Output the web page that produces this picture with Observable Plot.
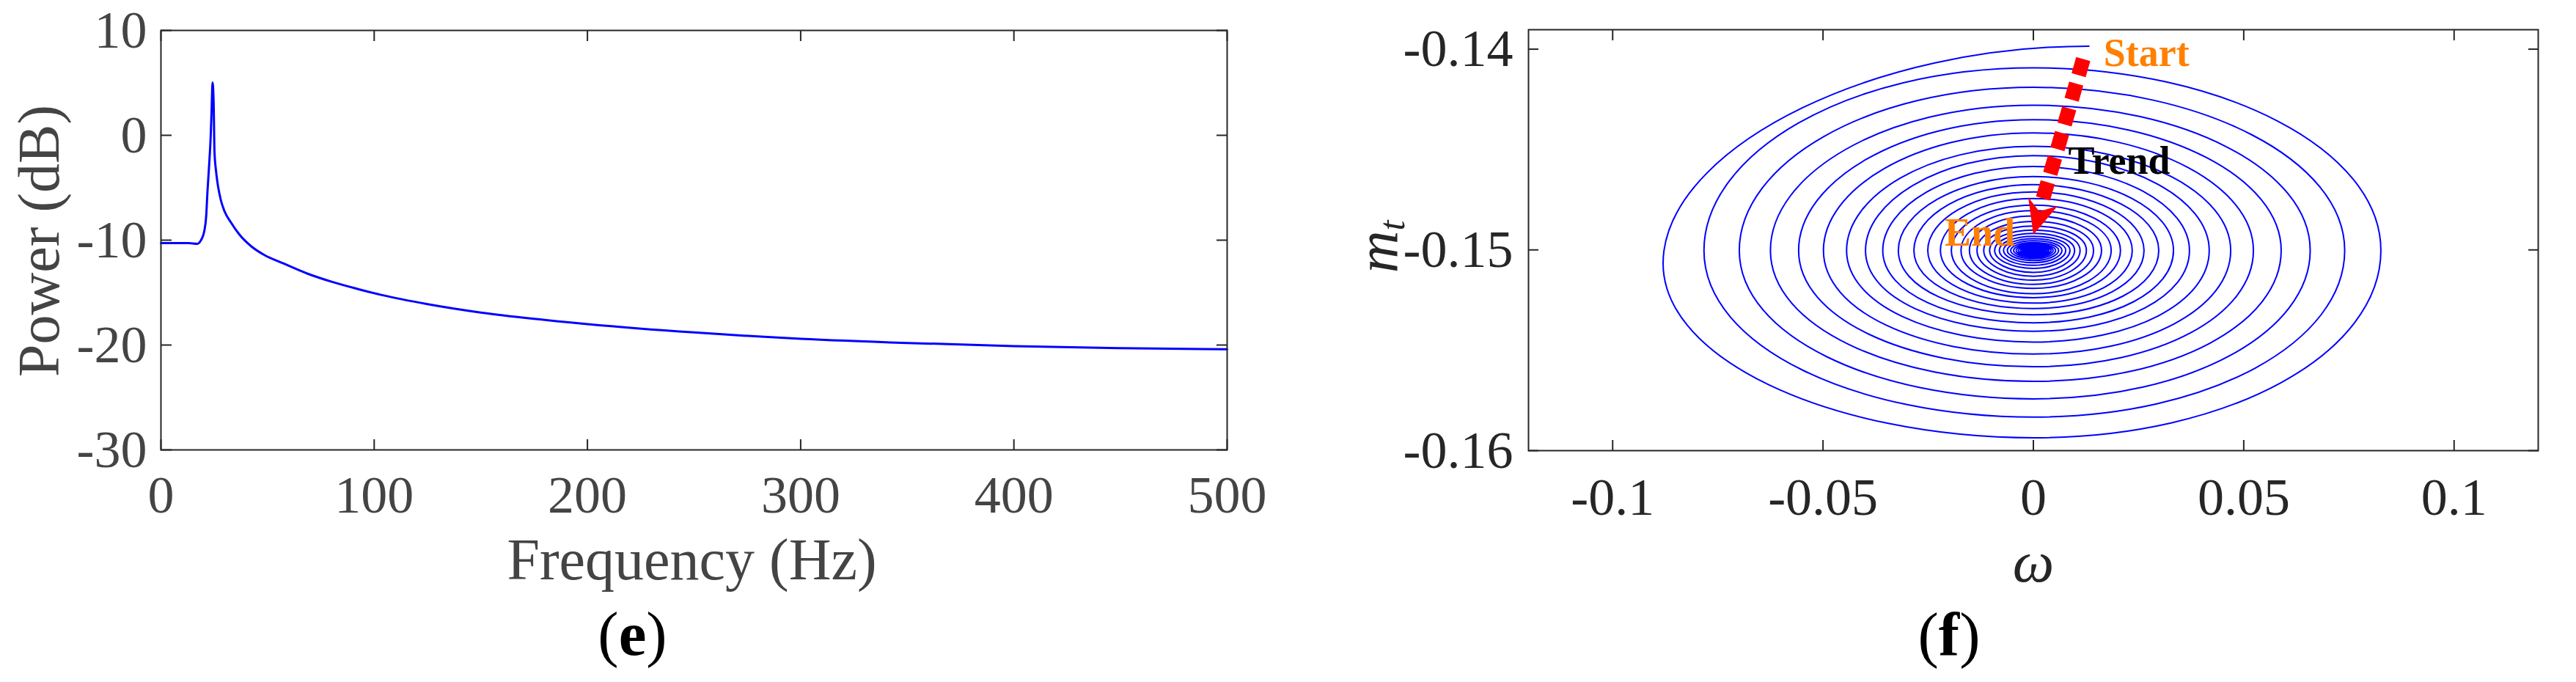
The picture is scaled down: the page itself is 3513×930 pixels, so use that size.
<!DOCTYPE html>
<html>
<head>
<meta charset="utf-8">
<script src="https://cdn.jsdelivr.net/npm/d3@7"></script>
<script src="https://cdn.jsdelivr.net/npm/@observablehq/plot@0.6"></script>
<style>
  html, body { margin: 0; padding: 0; background: #ffffff; }
  #wrap { position: relative; width: 3513px; height: 930px; overflow: hidden; background: #ffffff; }
  .panel { position: absolute; top: 0; }
  #panelE { left: 0px; }
  #panelF { left: 1760px; }
</style>
</head>
<body>
<div id="wrap">
  <div id="panelE" class="panel"></div>
  <div id="panelF" class="panel"></div>
</div>
<script>
// ---------------- Panel (e): power spectrum ----------------
const freqHz = [0, 13, 17, 18.9, 20.4, 21.2, 21.8, 22.6, 23.3, 23.75, 24.2, 24.7, 25.1, 25.8, 26.6, 28.1, 29.8, 32.7, 36.7, 42.5, 48.2, 57.4, 68.8, 80.3, 91.8, 103.3, 125, 150, 175, 200, 250, 300, 350, 400, 450, 500];
const powerDb = [-10.28, -10.28, -10.35, -9.96, -9.05, -7.76, -5.42, -2.83, -0.23, 2.36, 5.03, 3.14, -1.53, -3.35, -4.64, -6.19, -7.24, -8.27, -9.44, -10.61, -11.38, -12.22, -13.2, -13.98, -14.63, -15.22, -16.1, -16.9, -17.5, -18.0, -18.8, -19.4, -19.8, -20.1, -20.3, -20.4];
const freqTicks = [0, 100, 200, 300, 400, 500];
const powerTicks = [-30, -20, -10, 0, 10];

// ---------------- Panel (f): phase trajectory (omega, m_t) ----------------
// one value per loop of the spiral, outermost first
const spiralTopY = [-0.13985, -0.14093, -0.14190, -0.14279, -0.14351, -0.14417, -0.14484, -0.14530, -0.14584, -0.14635, -0.14675, -0.14711, -0.14744, -0.14777, -0.14804, -0.14831, -0.14858, -0.14881, -0.14901, -0.14918, -0.14932, -0.14944, -0.14954, -0.14963, -0.14970, -0.14976, -0.14981, -0.14985, -0.14989, -0.14992, -0.14994, -0.14996, -0.14998, -0.14999, -0.15000, -0.15001];
const spiralLeftX = [-0.0878, -0.0783, -0.0699, -0.0625, -0.0558, -0.0499, -0.0444, -0.0399, -0.0358, -0.0321, -0.0284, -0.0251, -0.0221, -0.0195, -0.0172, -0.0152, -0.0134, -0.0118, -0.0104, -0.0092, -0.0081, -0.0071, -0.0062, -0.0054, -0.0047, -0.0041, -0.0036, -0.0031, -0.0027, -0.0023, -0.0020, -0.0017, -0.0014, -0.0012, -0.0010, -0.0008];
const spiralBottomY = [-0.15936, -0.15833, -0.15742, -0.15655, -0.15582, -0.15519, -0.15459, -0.15405, -0.15363, -0.15323, -0.15292, -0.15265, -0.15238, -0.15218, -0.15192, -0.15172, -0.15151, -0.15131, -0.15112, -0.15092, -0.15077, -0.15064, -0.15053, -0.15044, -0.15036, -0.15030, -0.15025, -0.15021, -0.15017, -0.15014, -0.15012, -0.15010, -0.15008, -0.15007, -0.15006, -0.15005];
const spiralRightX = [0.0826, 0.0740, 0.0658, 0.0589, 0.0523, 0.0469, 0.0418, 0.0371, 0.0333, 0.0298, 0.0263, 0.0235, 0.0207, 0.0185, 0.0162, 0.0143, 0.0126, 0.0111, 0.0098, 0.0087, 0.0077, 0.0068, 0.0060, 0.0053, 0.0047, 0.0042, 0.0037, 0.0033, 0.0029, 0.0026, 0.0023, 0.0020, 0.0018, 0.0016, 0.0014, 0.0012];
const spiralStartX = 0.0132;   // omega of the "Start" point
const spiralTopX = 0.0;        // omega where each loop crosses its top / bottom
const spiralSideY = -0.15003;  // m_t where each loop crosses its left / right extreme

const trendX = [0.01185, 0.00697, 0.00192];
const trendY = [-0.14049, -0.14407, -0.14770];
const arrowHeadX = [-0.00122, 0.00139, 0.00575, 0.0, -0.00122];
const arrowHeadY = [-0.14738, -0.14808, -0.14782, -0.14924, -0.14738];

const noteText = ["Start", "Trend", "End"];
const noteX = [0.0167, 0.0083, -0.0211];
const noteY = [-0.14022, -0.14558, -0.14916];
const noteColor = ["#ff8000", "#000000", "#ff8000"];

const omegaTicks = [-0.1, -0.05, 0, 0.05, 0.1];
const mtTicks = [-0.16, -0.15, -0.14];

const FONT = '"Liberation Serif", "Times New Roman", Times, serif';

// ---------- build tables ----------
const spectrum = freqHz.map((f, i) => ({f, p: powerDb[i]}));

const spiral = [];
for (let k = 0; k < spiralTopY.length; k++) {
  spiral.push({x: k === 0 ? spiralStartX : spiralTopX, y: spiralTopY[k]});
  spiral.push({x: spiralLeftX[k], y: spiralSideY});
  spiral.push({x: spiralTopX, y: spiralBottomY[k]});
  spiral.push({x: spiralRightX[k], y: spiralSideY});
}
const trend = trendX.map((x, i) => ({x, y: trendY[i]}));
const head = arrowHeadX.map((x, i) => ({x, y: arrowHeadY[i]}));
const notes = noteText.map((t, i) => ({t, x: noteX[i], y: noteY[i], c: noteColor[i]}));

// cardinal spline tuned to approximate ellipse arcs with 4 points per turn;
// the first point leaves horizontally like the trajectory start
const TENSION = -0.657;
function spiralCurve(context) {
  const c = d3.curveCardinal.tension(TENSION)(context);
  let n = 0, x0 = 0;
  return {
    areaStart() { c.areaStart(); },
    areaEnd() { c.areaEnd(); },
    lineStart() { n = 0; c.lineStart(); },
    lineEnd() { c.lineEnd(); },
    point(x, y) {
      c.point(x, y);
      if (n === 0) { x0 = x; }
      if (n === 1) {
        const k = (1 - TENSION) / 6;
        c._x0 = x - 0.5 * (x - x0) / k;
        c._y0 = y;
      }
      n++;
    }
  };
}

const AX = "#262626";

// ---------------- Panel (e) ----------------
const plotE = Plot.plot({
  width: 1760, height: 930,
  marginLeft: 219, marginRight: 87, marginTop: 41, marginBottom: 317,
  x: {domain: [0, 500]},
  y: {domain: [-30, 10]},
  style: {fontFamily: FONT, background: "#ffffff", overflow: "visible"},
  marks: [
    Plot.line(spectrum, {x: "f", y: "p", stroke: "#0000ff", strokeWidth: 3, curve: "monotone-x"}),
    Plot.frame({stroke: AX, strokeWidth: 2}),
    Plot.axisX(freqTicks, {anchor: "bottom", tickSize: -14, strokeWidth: 2, color: AX, tickFormat: () => "", label: null}),
    Plot.axisX(freqTicks, {anchor: "top", tickSize: -14, strokeWidth: 2, color: AX, tickFormat: () => "", label: null}),
    Plot.axisY(powerTicks, {anchor: "left", tickSize: -15, strokeWidth: 2, color: AX, tickFormat: () => "", label: null}),
    Plot.axisY(powerTicks, {anchor: "right", tickSize: -15, strokeWidth: 2, color: AX, tickFormat: () => "", label: null}),
    Plot.axisX(freqTicks, {anchor: "bottom", tickSize: 0, tickPadding: 34, fontSize: 72, color: "#444444", tickFormat: d => String(d), label: null}),
    Plot.axisY(powerTicks, {anchor: "left", tickSize: 0, tickPadding: 19, fontSize: 72, color: "#444444", tickFormat: d => String(d), label: null}),
    Plot.text(["Frequency (Hz)"], {frameAnchor: "bottom", textAnchor: "middle", lineAnchor: "middle", dx: -3, dy: 151, fontSize: 80, fill: "#444444"}),
    Plot.text(["Power (dB)"], {frameAnchor: "left", textAnchor: "middle", lineAnchor: "middle", rotate: -90, dx: -165, dy: 1, fontSize: 80, fill: "#444444"}),
    Plot.text(["(e)"], {frameAnchor: "bottom", textAnchor: "middle", lineAnchor: "middle", dx: -84, dy: 252, fontSize: 85, fill: "#000000"})
  ]
});

// ---------------- Panel (f) ----------------
const plotF = Plot.plot({
  width: 1753, height: 930,
  marginLeft: 324, marginRight: 52, marginTop: 40, marginBottom: 316,
  x: {domain: [-0.12, 0.12]},
  y: {domain: [-0.16, -0.13903]},
  style: {fontFamily: FONT, background: "#ffffff", overflow: "visible"},
  marks: [
    Plot.line(spiral, {x: "x", y: "y", stroke: "#0000ff", strokeWidth: 2, curve: spiralCurve}),
    Plot.line(trend, {x: "x", y: "y", stroke: "#ff0000", strokeWidth: 20, strokeDasharray: "23,12", strokeLinecap: "butt", curve: "natural"}),
    Plot.line(head, {x: "x", y: "y", fill: "#ff0000", stroke: "none"}),
    Plot.text(notes, {x: "x", y: "y", text: "t", fill: "c", fontSize: 54, fontWeight: "bold", textAnchor: "start", lineAnchor: "middle"}),
    Plot.frame({stroke: AX, strokeWidth: 2}),
    Plot.axisX(omegaTicks, {anchor: "bottom", tickSize: -14, strokeWidth: 2, color: AX, tickFormat: () => "", label: null}),
    Plot.axisX(omegaTicks, {anchor: "top", tickSize: -14, strokeWidth: 2, color: AX, tickFormat: () => "", label: null}),
    Plot.axisY(mtTicks, {anchor: "left", tickSize: -14, strokeWidth: 2, color: AX, tickFormat: () => "", label: null}),
    Plot.axisY(mtTicks, {anchor: "right", tickSize: -14, strokeWidth: 2, color: AX, tickFormat: () => "", label: null}),
    Plot.axisX(omegaTicks, {anchor: "bottom", tickSize: 0, tickPadding: 36, fontSize: 72, color: AX, tickFormat: d => String(d), label: null}),
    Plot.axisY(mtTicks, {anchor: "left", tickSize: 0, tickPadding: 21, fontSize: 72, color: AX, tickFormat: d => String(d), label: null}),
    Plot.text(["\u03c9"], {frameAnchor: "bottom", textAnchor: "middle", lineAnchor: "middle", dx: 0, dy: 153, fontSize: 80, fontStyle: "italic", fill: AX}),
    Plot.text(["m_t"], {frameAnchor: "left", textAnchor: "middle", lineAnchor: "middle", rotate: -90, dx: -205, dy: 9, fontSize: 80, fill: AX}),
    Plot.text(["(f)"], {frameAnchor: "bottom", textAnchor: "middle", lineAnchor: "middle", dx: -115, dy: 252, fontSize: 85, fill: "#000000"})
  ]
});

document.getElementById("panelE").appendChild(plotE);
document.getElementById("panelF").appendChild(plotF);

// rich text: bold letter in panel captions, italic m with subscript t
const SVGNS = "http://www.w3.org/2000/svg";
function richText(svg, match, parts) {
  svg.querySelectorAll("text").forEach(el => {
    if (el.textContent === match && el.children.length === 0) {
      el.textContent = "";
      for (const p of parts) {
        const ts = document.createElementNS(SVGNS, "tspan");
        ts.textContent = p.t;
        for (const [k, v] of Object.entries(p.a || {})) ts.setAttribute(k, v);
        el.appendChild(ts);
      }
    }
  });
}
richText(plotE, "(e)", [{t: "("}, {t: "e", a: {"font-weight": "bold"}}, {t: ")"}]);
richText(plotF, "(f)", [{t: "("}, {t: "f", a: {"font-weight": "bold"}}, {t: ")"}]);
richText(plotF, "m_t", [{t: "m", a: {"font-style": "italic"}}, {t: "t", a: {"font-style": "italic", "font-size": "50", "dy": "10"}}]);
</script>
</body>
</html>
